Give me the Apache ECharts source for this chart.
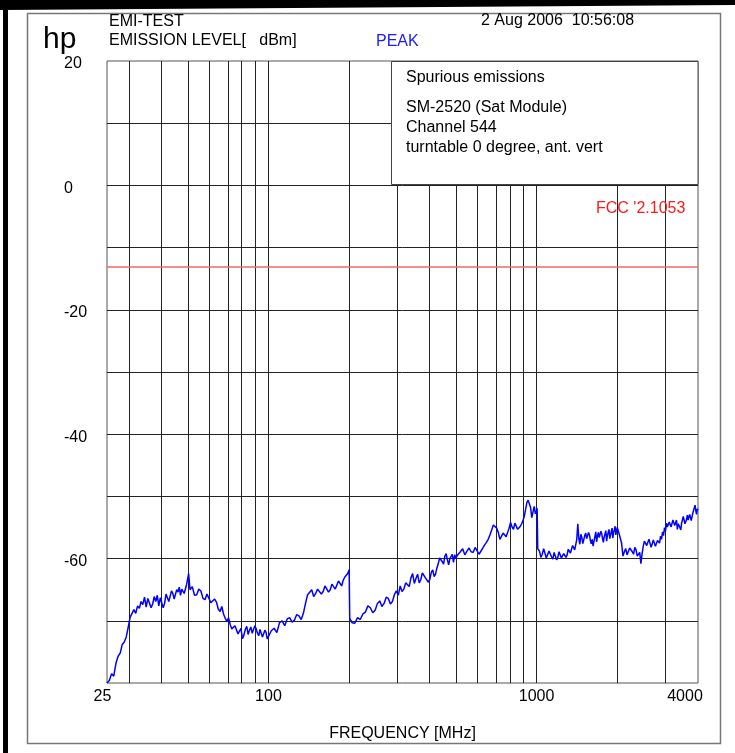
<!DOCTYPE html>
<html>
<head>
<meta charset="utf-8">
<script src="https://cdn.jsdelivr.net/npm/echarts@6/dist/echarts.min.js"></script>
<style>
  html, body { margin: 0; padding: 0; background: #fff; }
  #chart { width: 735px; height: 753px; }
</style>
</head>
<body>
<div id="chart"></div>
<script>
// Sweep frequencies (MHz) of the peak trace
const freqMHz = [
  25, 25.5, 26, 26.5, 27, 27.5, 28, 28.5, 29, 29.5,
  30, 30.5, 31, 31.5, 32, 32.5, 33, 33.5, 34, 34.5,
  35, 35.5, 36, 36.5, 37, 37.5, 38, 38.5, 39, 39.5,
  40, 40.5, 41, 41.5, 42, 42.5, 43, 43.5, 44, 44.5,
  45, 45.5, 46, 46.5, 47, 47.5, 48, 48.5, 49, 49.5,
  50, 50.4,
  51, 52, 53, 54, 55, 56, 57, 58, 59, 60,
  61, 62, 63, 64, 65, 66, 67, 68, 69, 70,
  71, 72, 73, 74, 75, 76, 77, 78, 79, 80,
  81, 82, 83, 84, 85, 86, 87, 88, 89, 90,
  91, 92, 93, 94, 95, 96, 97, 98, 99, 100,
  102.5, 105, 107.5, 110, 112.5, 115, 117.5, 120, 122.5, 125,
  127.5, 130, 132.5, 135, 137.5, 140, 142.5, 145, 147.5, 150,
  152.5, 155, 157.5, 160, 162.5, 165, 167.5, 170, 172.5, 175,
  177.5, 180, 182.5, 185, 187.5, 190, 192.5, 195, 197.5, 200,
  201,
  205, 210, 215, 220, 225, 230, 235, 240, 245, 250,
  255, 260, 265, 270, 275, 280, 285, 290, 295, 300,
  305, 310, 315, 320, 325, 330, 335, 340, 345, 350,
  355, 360, 365, 370, 375, 380, 385, 390, 395, 400,
  405, 410, 415, 420, 425, 430, 435, 440, 445, 450,
  455, 460, 465, 470, 475, 480, 485, 490, 495, 500,
  510, 520, 530, 540, 550, 560, 570, 580, 590, 600,
  610, 620, 630, 640, 650, 660, 670, 680, 690, 700,
  710, 720, 730, 740, 750, 760, 770, 780, 790, 800,
  810, 820, 830, 840, 850, 860, 870, 880, 890, 900,
  910, 920, 930, 940, 950, 960, 970, 980, 990, 1000,
  1005,
  1010,
  1025, 1037.5, 1050, 1062.5, 1075, 1087.5, 1100, 1112.5, 1125, 1137.5,
  1150, 1162.5, 1175, 1187.5, 1200, 1212.5, 1225, 1237.5, 1250, 1262.5,
  1275, 1287.5, 1300, 1312.5, 1325, 1337.5, 1350, 1362.5, 1375, 1387.5,
  1400, 1412.5, 1425, 1437.5, 1450, 1462.5, 1475, 1487.5, 1500, 1512.5,
  1525, 1537.5, 1550, 1562.5, 1575, 1587.5, 1600, 1612.5, 1625, 1637.5,
  1650, 1662.5, 1675, 1687.5, 1700, 1712.5, 1725, 1737.5, 1750, 1762.5,
  1775, 1787.5, 1800, 1812.5, 1825, 1837.5, 1850, 1862.5, 1875, 1887.5,
  1900, 1912.5, 1925, 1937.5, 1950, 1962.5, 1975, 1987.5, 2000,
  2025, 2050, 2075, 2100, 2125, 2150, 2175, 2200, 2225, 2250,
  2275, 2300, 2325, 2350, 2375, 2400, 2425, 2450, 2475, 2500,
  2525, 2550, 2575, 2600, 2625, 2650, 2675, 2700, 2725, 2750,
  2775, 2800, 2825, 2850, 2875, 2900, 2925, 2950, 2975, 3000,
  3025, 3050, 3075, 3100, 3125, 3150, 3175, 3200, 3225, 3250,
  3275, 3300, 3325, 3350, 3375, 3400, 3425, 3450, 3475, 3500,
  3525, 3550, 3575, 3600, 3625, 3650, 3675, 3700, 3725, 3750,
  3775, 3800, 3825, 3850, 3875, 3900, 3925, 3950, 3975, 4000
];

// Peak emission level (dBm) at each sweep frequency
const levelDbm = [
  -80.0, -79.6, -78.5, -78.9, -76.8, -75.7, -75.2, -73.8, -73.4, -72.6,
  -71.0, -69.4, -69.2, -68.2, -68.8, -67.6, -68.0, -66.9, -67.4, -66.2,
  -67.8, -66.4, -66.6, -67.9, -67.3, -66.1, -66.9, -65.9, -67.6, -66.3,
  -66.5, -67.9, -67.2, -65.7, -66.0, -66.9, -66.8, -65.2, -65.6, -66.5,
  -66.3, -65.0, -65.4, -64.6, -65.9, -64.9, -64.8, -65.6, -65.5, -64.2,
  -64.3, -62.4,
  -65.0, -64.5, -65.9, -65.8, -64.9, -65.2, -66.4, -66.6, -65.7, -66.0,
  -67.1, -67.4, -66.5, -67.0, -68.1, -68.5, -67.7, -68.9, -69.6, -70.1,
  -69.5, -70.6, -71.3, -71.5, -70.8, -71.0, -72.1, -72.0, -71.2, -72.9,
  -72.3, -71.4, -70.9, -72.2, -71.5, -71.0, -72.0, -71.8, -70.8, -71.3,
  -72.0, -72.4, -71.4, -71.6, -72.6, -72.5, -71.5, -71.9, -72.9, -72.8,
  -71.6, -71.2, -71.9, -70.3, -70.0, -70.8, -69.7, -69.5, -70.2, -69.9,
  -69.0, -69.2, -69.8, -68.8, -67.2, -65.8, -65.4, -65.0, -66.1, -65.6,
  -64.9, -64.8, -65.7, -65.3, -64.4, -64.5, -65.4, -65.0, -64.1, -64.2,
  -64.9, -64.6, -63.6, -63.8, -64.4, -63.5, -63.0, -63.0, -62.4, -61.8,
  -69.6,
  -70.3, -70.4, -69.5, -69.8, -68.9, -68.6, -67.6, -67.9, -68.7, -68.3,
  -67.2, -66.8, -67.7, -67.2, -66.2, -66.4, -67.3, -66.9, -65.8, -65.2,
  -65.9, -64.4, -65.3, -64.9, -63.9, -63.6, -64.5, -63.1, -62.4, -64.0,
  -63.2, -62.5, -63.9, -63.4, -62.3, -62.0, -63.1, -62.8, -63.8, -63.3,
  -62.2, -61.8, -62.9, -62.5, -61.5, -60.8, -59.9, -59.6, -60.5, -60.9,
  -59.6, -59.2, -60.2, -61.0, -60.0, -59.8, -59.3, -60.6, -59.4, -59.9,
  -59.3, -58.9, -58.4, -59.4, -58.8, -58.3, -58.9, -59.0, -58.2, -58.5,
  -59.3, -59.1, -58.3, -57.8, -57.4, -56.9, -56.2, -55.4, -54.6, -54.3,
  -55.1, -55.8, -56.9, -56.8, -55.9, -55.6, -56.5, -56.2, -55.1, -54.2,
  -54.9, -55.3, -54.3, -54.6, -55.3, -55.6, -54.8, -54.4, -53.9, -53.2,
  -52.1, -51.0, -50.6, -50.4, -51.8, -53.4, -52.5, -51.6, -52.8, -52.3,
  -51.9,
  -58.4,
  -58.8, -59.8, -59.3, -58.4, -58.6, -59.9, -59.6, -58.8, -59.0, -59.7,
  -60.1, -59.0, -59.3, -60.2, -59.8, -58.9, -59.1, -59.9, -60.0, -59.2,
  -58.9, -59.8, -59.4, -58.5, -58.3, -59.1, -58.8, -57.9, -57.6, -58.6,
  -58.4, -56.9, -54.4, -56.8, -57.7, -56.1, -56.6, -57.6, -57.4, -56.3,
  -55.9, -56.8, -57.0, -55.8, -56.2, -57.1, -57.6, -56.9, -58.0, -57.2,
  -56.5, -55.7, -57.3, -56.4, -55.8, -56.6, -56.9, -55.6, -56.0, -56.8,
  -57.4, -56.5, -56.4, -55.5, -57.2, -56.3, -56.0, -55.3, -56.8, -56.2,
  -55.9, -55.1, -56.7, -55.8, -55.4, -54.8, -56.2, -55.5, -55.0,
  -55.8, -55.6, -57.5, -59.6, -58.9, -58.4, -59.4, -59.2, -58.3, -58.0,
  -58.9, -59.3, -58.2, -58.6, -59.6, -59.8, -59.0, -60.8, -59.2, -58.0,
  -57.2, -56.9, -57.9, -57.8, -56.9, -57.2, -58.2, -58.1, -57.0, -57.3,
  -58.0, -57.9, -57.1, -56.8, -57.5, -56.4, -56.9, -55.7, -56.3, -55.0,
  -55.6, -54.3, -54.9, -55.2, -54.1, -53.9, -54.9, -54.8, -53.8, -53.6,
  -54.7, -54.5, -53.8, -55.3, -54.4, -54.2, -55.0, -55.4, -54.3, -54.0,
  -53.2, -53.4, -54.4, -54.6, -53.7, -53.0, -53.8, -53.9, -52.9, -52.8,
  -53.9, -53.6, -52.7, -52.5, -51.8, -51.4, -52.3, -52.9, -52.0, -52.2
];

// Axis labelling and grid
const xTickLabels = [25, 100, 1000, 4000];
const freqMin = 25;
const freqMax = 4000;
const levelMin = -80;
const levelMax = 20;
const levelLabelStep = 20;
const gridFreqs = [30, 40, 50, 60, 70, 80, 90, 100, 200, 300, 400, 500, 600, 700, 800, 900, 1000, 2000, 3000];
const gridLevels = [10, 0, -10, -20, -30, -40, -50, -60, -70];

// Regulatory limit
const limitDbm = -13;
const limitLabel = "FCC '2.1053";

// Header and annotation texts
const brandText = 'hp';
const headerTitle = 'EMI-TEST';
const headerUnitText = 'EMISSION LEVEL[   dBm]';
const detectorText = 'PEAK';
const dateText = '2 Aug 2006  10:56:08';
const noteLines = ['Spurious emissions', 'SM-2520 (Sat Module)', 'Channel 544', 'turntable 0 degree, ant. vert'];
const xAxisTitle = 'FREQUENCY [MHz]';

const FONT = '"Liberation Sans", Arial, sans-serif';
const lg = Math.log10;

const chart = echarts.init(document.getElementById('chart'), null, { renderer: 'canvas' });

const trace = freqMHz.map((f, i) => [lg(f), levelDbm[i]]);

function txt(x, y, text, size, color) {
  return {
    type: 'text', x: x, y: y, z: 200,
    style: { text: text, fill: color || '#000', font: size + 'px ' + FONT, verticalAlign: 'middle' }
  };
}

const graphics = [
  // scanner border strips
  { type: 'polygon', z: 300, shape: { points: [[0, 0], [735, 0], [735, 5], [0, 10]] }, style: { fill: '#000' } },
  { type: 'rect', z: 300, shape: { x: 3, y: 0, width: 5, height: 753 }, style: { fill: '#000' } },
  // page frame
  { type: 'rect', z: 150, shape: { x: 27.5, y: 13.5, width: 693, height: 730 }, style: { fill: 'none', stroke: '#777', lineWidth: 1.5 } },
  // annotation box over the upper right of the plot
  { type: 'rect', z: 150, shape: { x: 391.5, y: 61.5, width: 306.5, height: 123 }, style: { fill: '#fff', stroke: '#444', lineWidth: 1 } },
  txt(43, 40, brandText, 30, '#000'),
  txt(109, 22, headerTitle, 16),
  txt(109, 41, headerUnitText, 16),
  txt(376, 42, detectorText, 16, '#1a1aff'),
  txt(481, 21, dateText, 16),
  txt(406, 78, noteLines[0], 16),
  txt(406, 108, noteLines[1], 16),
  txt(406, 128, noteLines[2], 16),
  txt(406, 148, noteLines[3], 16),
  txt(596, 209, limitLabel, 16, '#ff1a1a')
];

const labelText = { fontFamily: FONT, fontSize: 16, color: '#000' };

const option = {
  animation: false,
  backgroundColor: '#fff',
  grid: {
    left: 107, top: 61, width: 591, height: 622,
    show: true, borderColor: '#555', borderWidth: 1, backgroundColor: 'transparent'
  },
  xAxis: {
    type: 'value',
    min: lg(freqMin),
    max: lg(freqMax),
    name: xAxisTitle,
    nameLocation: 'middle',
    nameGap: 43,
    nameTextStyle: labelText,
    axisLine: { show: false },
    axisTick: { show: false },
    splitLine: { show: false },
    axisLabel: Object.assign({
      customValues: xTickLabels.map(v => lg(v)),
      formatter: v => {
        const f = Math.round(Math.pow(10, v));
        if (f === freqMin) return '{lo|' + f + '}';
        if (f === freqMax) return '{hi|' + f + '}';
        return String(f);
      },
      margin: 6,
      rich: {
        lo: Object.assign({ padding: [0, 9, 0, 0] }, labelText),
        hi: Object.assign({ padding: [0, 26, 0, 0] }, labelText)
      }
    }, labelText)
  },
  yAxis: {
    type: 'value',
    min: levelMin,
    max: levelMax,
    interval: levelLabelStep,
    axisLine: { show: false },
    axisTick: { show: false },
    splitLine: { show: false },
    axisLabel: Object.assign({
      formatter: v => (v === levelMin ? '' : '{v|' + v + '}'),
      align: 'left', margin: 43,
      rich: { v: Object.assign({ padding: [6, 0, 0, 0] }, labelText) }
    }, labelText)
  },
  graphic: graphics,
  series: [
    {
      name: 'grid',
      type: 'line',
      data: [],
      z: 1,
      silent: true,
      markLine: {
        silent: true,
        symbol: 'none',
        label: { show: false },
        lineStyle: { color: '#222', width: 1, type: 'solid' },
        data: gridFreqs.map(f => ({ xAxis: lg(f) })).concat(gridLevels.map(v => ({ yAxis: v })))
      }
    },
    {
      name: 'limit',
      type: 'line',
      data: [],
      z: 2,
      silent: true,
      markLine: {
        silent: true,
        symbol: 'none',
        label: { show: false },
        lineStyle: { color: '#f06a6a', width: 1.5, type: 'solid' },
        data: [{ yAxis: limitDbm }]
      }
    },
    {
      name: detectorText,
      type: 'line',
      data: trace,
      z: 5,
      showSymbol: false,
      symbol: 'none',
      lineStyle: { color: '#0000ff', width: 1.5 }
    }
  ]
};

chart.setOption(option);
</script>
</body>
</html>
